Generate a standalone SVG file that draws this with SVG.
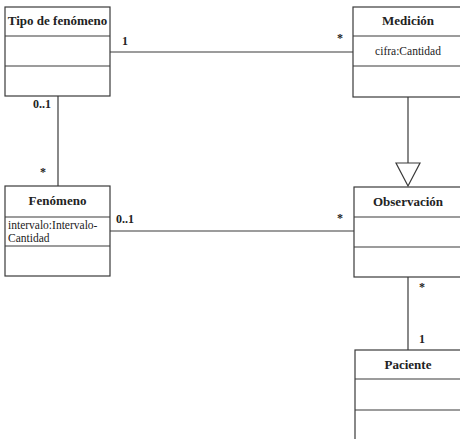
<svg xmlns="http://www.w3.org/2000/svg" width="460" height="439" viewBox="0 0 460 439">
<style>
.box{fill:none;stroke:#3a3a3a;stroke-width:1.2}
.ln{fill:none;stroke:#3a3a3a;stroke-width:1.2}
.t{font-family:"Liberation Serif","DejaVu Serif",serif;font-weight:bold;font-size:13px;fill:#222;text-anchor:middle}
.a{font-family:"Liberation Serif","DejaVu Serif",serif;font-size:11.5px;fill:#222}
.m{font-family:"Liberation Serif","DejaVu Serif",serif;font-weight:bold;font-size:12px;fill:#222}
</style>
<rect width="460" height="439" fill="#fff"/>
<g id="connectors">
<line class="ln" x1="110" y1="52" x2="353" y2="52"/>
<line class="ln" x1="58" y1="96" x2="58" y2="186"/>
<line class="ln" x1="110" y1="231" x2="354" y2="231"/>
<line class="ln" x1="408" y1="97" x2="408" y2="163"/>
<polygon class="ln" points="396,163 420,163 408,186" style="fill:#fff"/>
<line class="ln" x1="408" y1="277" x2="408" y2="350"/>
<text class="m" x="122" y="45">1</text>
<text class="m" x="337" y="42">*</text>
<text class="m" x="33" y="108">0..1</text>
<text class="m" x="40" y="176">*</text>
<text class="m" x="116" y="223">0..1</text>
<text class="m" x="337" y="222">*</text>
<text class="m" x="419" y="291">*</text>
<text class="m" x="419" y="343">1</text>
</g>
<g id="tipo">
<rect class="box" x="5" y="7" width="105" height="89"/>
<line class="ln" x1="5" y1="36" x2="110" y2="36"/>
<line class="ln" x1="5" y1="66" x2="110" y2="66"/>
<text class="t" x="57.5" y="25">Tipo de fenómeno</text>
</g>
<g id="medicion">
<rect class="box" x="353" y="7" width="110" height="90"/>
<line class="ln" x1="353" y1="36" x2="460" y2="36"/>
<line class="ln" x1="353" y1="66" x2="460" y2="66"/>
<text class="t" x="408" y="25">Medición</text>
<text class="a" x="408" y="55" text-anchor="middle">cifra:Cantidad</text>
</g>
<g id="fenomeno">
<rect class="box" x="5" y="186" width="105" height="90"/>
<line class="ln" x1="5" y1="217" x2="110" y2="217"/>
<line class="ln" x1="5" y1="246" x2="110" y2="246"/>
<text class="t" x="57.5" y="205">Fenómeno</text>
<text class="a" x="8" y="229">intervalo:Intervalo-</text>
<text class="a" x="8" y="242">Cantidad</text>
</g>
<g id="observacion">
<rect class="box" x="354" y="187" width="110" height="90"/>
<line class="ln" x1="354" y1="217" x2="460" y2="217"/>
<line class="ln" x1="354" y1="247" x2="460" y2="247"/>
<text class="t" x="408" y="206">Observación</text>
</g>
<g id="paciente">
<rect class="box" x="355" y="350" width="110" height="100"/>
<line class="ln" x1="355" y1="379" x2="460" y2="379"/>
<line class="ln" x1="355" y1="410" x2="460" y2="410"/>
<text class="t" x="408" y="369">Paciente</text>
</g>
</svg>
